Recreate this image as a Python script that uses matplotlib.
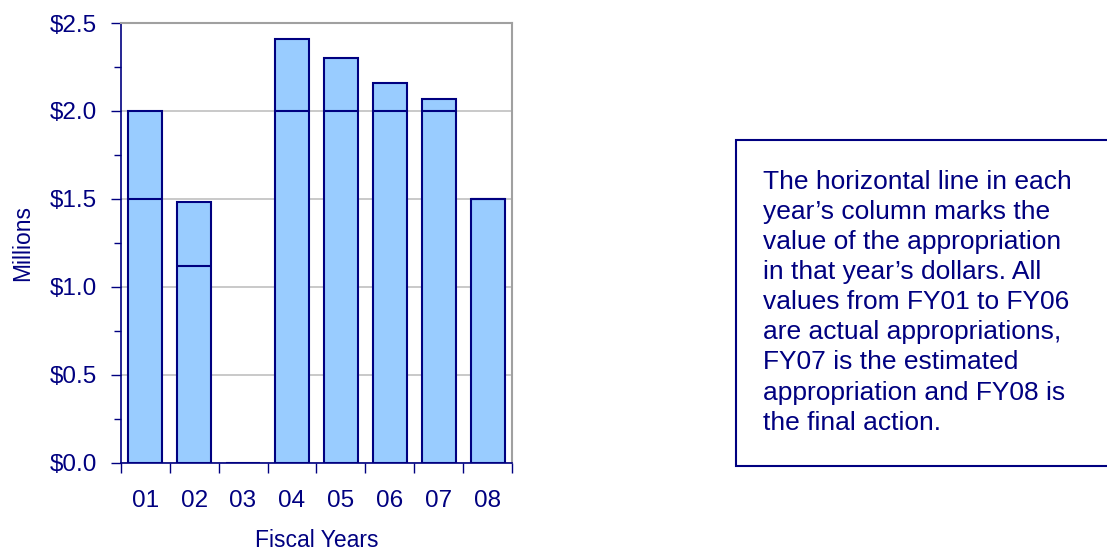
import numpy as np
import matplotlib
matplotlib.use('Agg')
import matplotlib.pyplot as plt
from matplotlib.patches import Rectangle
from matplotlib.ticker import MultipleLocator, FuncFormatter

years = ['01', '02', '03', '04', '05', '06', '07', '08']
total = [2.0, 1.48, 0.0, 2.41, 2.30, 2.16, 2.07, 1.50]
nominal = [1.5, 1.12, 0.0, 2.0, 2.0, 2.0, 2.0, 1.5]

navy = '#000080'
fill = '#99CCFF'

plt.rcParams['font.family'] = ['Liberation Sans', 'DejaVu Sans']

fig = plt.figure(figsize=(11.07, 5.52), dpi=100)
ax = fig.add_axes([0.109, 0.1618, 0.3538, 0.7965])

x = np.arange(len(years))
w = 0.7
ax.bar(x, total, width=w, color=fill, edgecolor=navy, linewidth=1.5, zorder=3)
for xi, v in zip(x, nominal):
    if v > 0:
        ax.hlines(v, xi - w / 2, xi + w / 2, color=navy, linewidth=1.5, zorder=4)

ax.set_xlim(-0.5, len(years) - 0.5)
ax.set_ylim(0, 2.5)
ax.yaxis.set_major_locator(MultipleLocator(0.5))
ax.yaxis.set_minor_locator(MultipleLocator(0.25))
ax.yaxis.set_major_formatter(FuncFormatter(lambda v, p: '${:.1f}'.format(v)))
ax.grid(axis='y', which='major', color='#C0C0C0', linewidth=1.2, zorder=0)

ax.set_xticks(x)
ax.set_xticklabels(years)
ax.set_xticks(np.arange(-0.5, len(years)), minor=True)
ax.tick_params(axis='x', which='major', length=0, pad=20, labelsize=17.5, labelcolor=navy)
ax.tick_params(axis='x', which='minor', length=7, width=1, color=navy, direction='out')
ax.tick_params(axis='y', which='major', length=7, width=1, color=navy, labelsize=17.5, labelcolor=navy, pad=10)
ax.tick_params(axis='y', which='minor', length=5, width=1, color=navy)

for s in ['left', 'bottom']:
    ax.spines[s].set_color(navy)
    ax.spines[s].set_linewidth(1.2)
for s in ['top', 'right']:
    ax.spines[s].set_color('#A0A0A0')
    ax.spines[s].set_linewidth(1.5)

ax.set_xlabel('Fiscal Years', fontsize=16.5, color=navy, labelpad=12)
ax.set_ylabel('Millions', fontsize=16.5, color=navy, labelpad=11)

box = Rectangle((736 / 1107, 1 - 466 / 552), 0.5, (466 - 140) / 552,
                transform=fig.transFigure, facecolor='white', edgecolor=navy,
                linewidth=1.5, clip_on=False)
fig.patches.append(box)

note = ("The horizontal line in each\n"
        "year\u2019s column marks the\n"
        "value of the appropriation\n"
        "in that year\u2019s dollars. All\n"
        "values from FY01 to FY06\n"
        "are actual appropriations,\n"
        "FY07 is the estimated\n"
        "appropriation and FY08 is\n"
        "the final action.")
fig.text(763 / 1107, 1 - 170 / 552, note, fontsize=19, color=navy,
         va='top', ha='left', linespacing=1.32)

fig.savefig('out.png', dpi=100)
